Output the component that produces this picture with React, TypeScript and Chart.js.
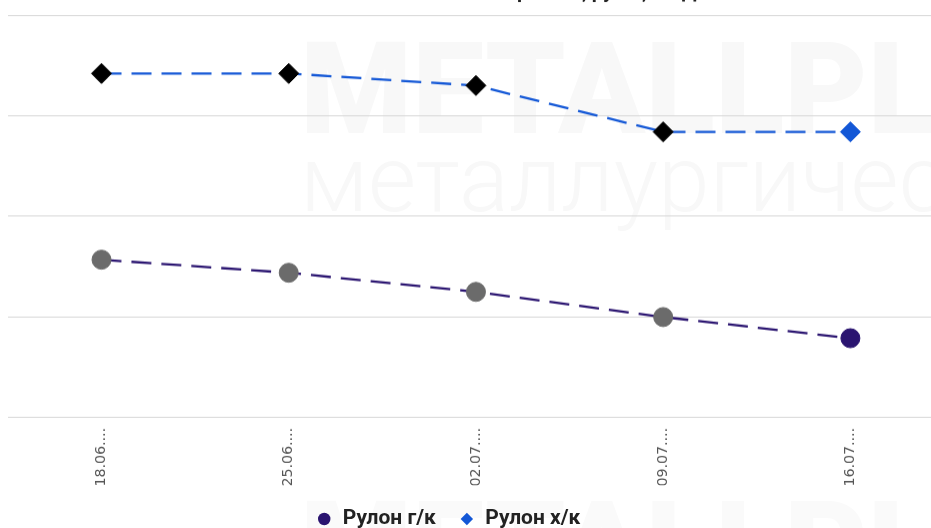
import React, { useEffect, useRef } from "react";
import { Chart, registerables } from "chart.js";

Chart.register(...registerables);

const TITLE = "Изменение стоимости листового проката, руб/т, с НДС";
const categories = ["18.06.2024", "25.06.2024", "02.07.2024", "09.07.2024", "16.07.2024"];
const seriesNames = ["Рулон г/к", "Рулон х/к"];
const hotRolled = [62850, 62200, 61250, 60000, 58950];
const coldRolled = [72100, 72100, 71500, 69200, 69200];
const yMin = 55000;
const yMax = 75000;
const yStep = 5000;

const HOT = "#2a1470";
const COLD = "#1357d6";
const HOT_POINT = "#6b6b6b";
const COLD_POINT = "#000000";

const hotPointColors = hotRolled.map((_, i) => (i === hotRolled.length - 1 ? HOT : HOT_POINT));
const coldPointColors = coldRolled.map((_, i) => (i === coldRolled.length - 1 ? COLD : COLD_POINT));
const seriesColors = [HOT, COLD];

export default function App() {
  const ref = useRef<HTMLCanvasElement | null>(null);

  useEffect(() => {
    if (!ref.current) return;
    const chart = new Chart(ref.current, {
      type: "line",
      data: {
        labels: categories,
        datasets: [
          {
            label: seriesNames[0],
            data: hotRolled,
            borderColor: HOT,
            backgroundColor: HOT,
            borderWidth: 2.3,
            borderDash: [20, 10],
            tension: 0,
            fill: false,
            pointStyle: "circle",
            pointRadius: 9.5,
            pointHoverRadius: 9.5,
            pointBorderWidth: 1,
            pointBackgroundColor: hotPointColors,
            pointBorderColor: hotPointColors,
          },
          {
            label: seriesNames[1],
            data: coldRolled,
            borderColor: COLD,
            backgroundColor: COLD,
            borderWidth: 2.3,
            borderDash: [20, 10],
            tension: 0,
            fill: false,
            pointStyle: "rectRot",
            pointRadius: 10,
            pointHoverRadius: 10,
            pointBorderWidth: 1,
            pointBackgroundColor: coldPointColors,
            pointBorderColor: coldPointColors,
          },
        ],
      },
      options: {
        responsive: true,
        maintainAspectRatio: false,
        animation: false,
        layout: { padding: { right: 8.4 } },
        plugins: {
          title: {
            display: true,
            text: TITLE,
            color: "#222222",
            font: { family: "Roboto", size: 20, weight: "bold" },
            padding: { top: 10, bottom: 10 },
          },
          legend: {
            position: "bottom",
            labels: {
              usePointStyle: true,
              boxWidth: 16,
              boxHeight: 8.8,
              padding: 23,
              color: "#222222",
              font: { family: "Roboto", size: 21, weight: "bold" },
              generateLabels: (c: any) => {
                const items = (Chart.defaults.plugins.legend.labels as any).generateLabels(c);
                return items.map((it: any, i: number) => ({
                  ...it,
                  fillStyle: seriesColors[i],
                  strokeStyle: seriesColors[i],
                  lineWidth: 0,
                  lineDash: [],
                }));
              },
            },
          },
          tooltip: { enabled: false },
        },
        scales: {
          x: {
            offset: true,
            grid: { display: false, drawTicks: false },
            border: { display: false },
            ticks: {
              padding: 10,
              autoSkip: false,
              minRotation: 90,
              maxRotation: 90,
              color: "#555555",
              font: { family: "DejaVu Sans", size: 14.2 },
              callback: function (this: any, v: any) {
                const l = String(this.getLabelForValue(v));
                return l.slice(0, 6) + "...";
              },
            },
            afterFit: (s: any) => {
              s.height = 67.6;
            },
          },
          y: {
            min: yMin,
            max: yMax,
            ticks: { stepSize: yStep, display: false },
            grid: { color: "#d7d7d7", drawTicks: false, lineWidth: 1 },
            border: { display: false },
            afterFit: (s: any) => {
              s.width = 57.9;
            },
          },
        },
      },
    });
    return () => chart.destroy();
  }, []);

  const wm: React.CSSProperties = {
    position: "absolute",
    color: "#f8f8f8",
    fontFamily: "Roboto",
    whiteSpace: "nowrap",
    lineHeight: 1,
    zIndex: 0,
  };

  return (
    <div
      style={{
        position: "fixed",
        left: 0,
        top: 0,
        width: "100vw",
        height: "100vh",
        overflow: "hidden",
        background: "#ffffff",
      }}
    >
      <div style={{ ...wm, left: 300, top: 25, fontSize: 128, fontWeight: 900 }}>METALLPLACE</div>
      <div style={{ ...wm, left: 300, top: 133, fontSize: 93, fontWeight: 300 }}>металлургический</div>
      <div style={{ ...wm, left: 300, top: 484, fontSize: 128, fontWeight: 900, color: "#fafafa" }}>METALLPLACE</div>
      <div
        style={{
          position: "absolute",
          left: -49.7,
          top: -28.7,
          width: 1005,
          height: 567.5,
          zIndex: 1,
        }}
      >
        <canvas ref={ref} />
      </div>
    </div>
  );
}
